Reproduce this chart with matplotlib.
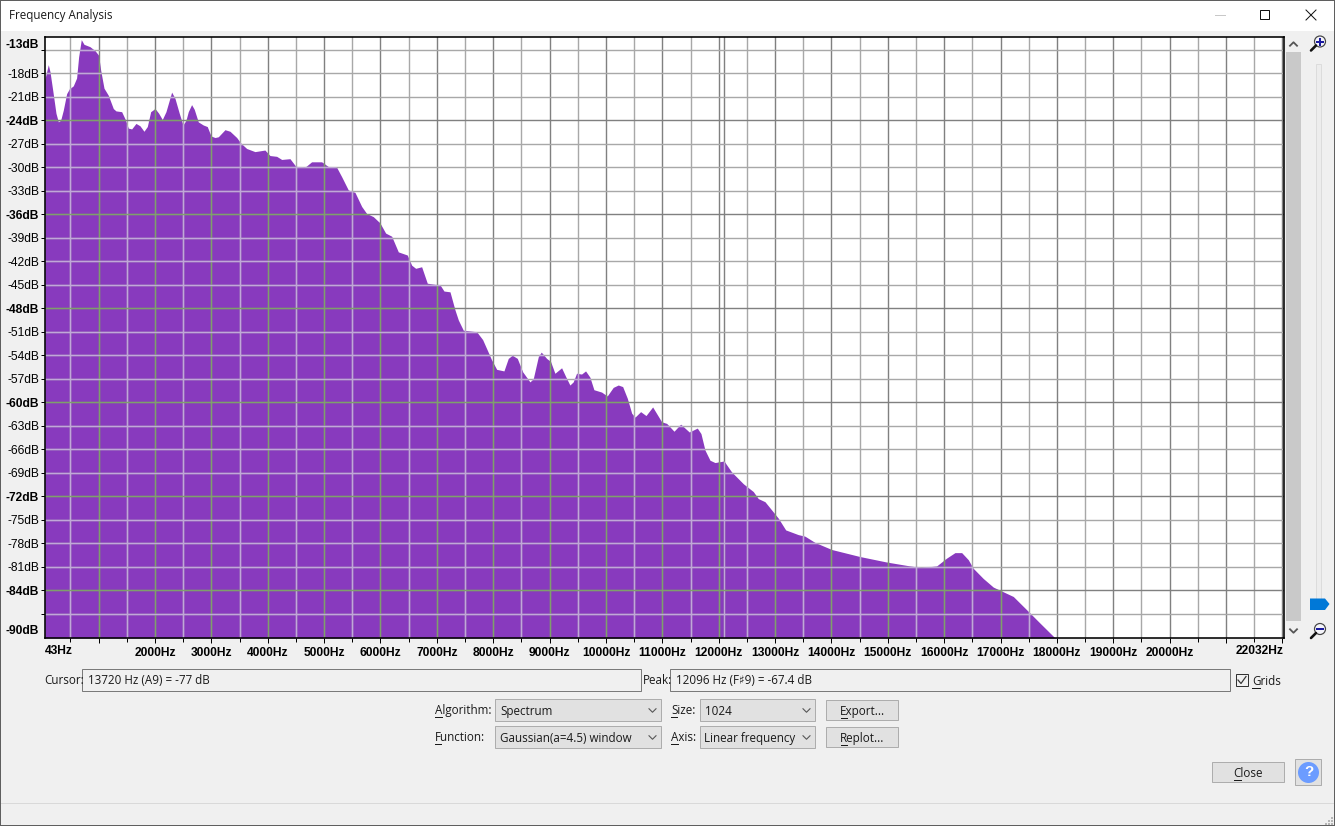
import numpy as np
import matplotlib
matplotlib.use('Agg')
import matplotlib.pyplot as plt
from matplotlib.patches import Rectangle, Polygon, Circle

# spectrum outline
freq_hz = [43, 107, 137, 184, 243, 285, 326, 373, 432, 479, 550, 609, 645, 692, 740, 846, 935, 1000,
           1036, 1095, 1171, 1260, 1307, 1408, 1473, 1526, 1586, 1662, 1733, 1804, 1863, 1923, 2000,
           2065, 2129, 2194, 2295, 2354, 2430, 2496, 2549, 2590, 2649, 2696, 2767, 2856, 2927, 2993,
           3064, 3123, 3241, 3330, 3449, 3520, 3626, 3773, 3950, 4039, 4158, 4247, 4394, 4500, 4660,
           4778, 4956, 5073, 5222, 5311, 5429, 5547, 5666, 5754, 5872, 5990, 6091, 6198, 6316, 6475,
           6553, 6624, 6730, 6830, 7014, 7055, 7126, 7233, 7321, 7381, 7469, 7706, 7812, 7972, 8061,
           8190, 8267, 8338, 8427, 8521, 8651, 8710, 8799, 8852, 8947, 9018, 9094, 9213, 9284, 9360,
           9419, 9478, 9567, 9638, 9715, 9786, 9922, 10022, 10129, 10218, 10296, 10379, 10456, 10515,
           10615, 10710, 10828, 10988, 11077, 11207, 11325, 11478, 11620, 11685, 11756, 11845, 11934,
           12094, 12229, 12436, 12613, 12702, 12821, 13057, 13188, 13411, 13530, 13708, 14004, 14506,
           14979, 15393, 15600, 15866, 16043, 16191, 16310, 16427, 16515, 16693, 16871, 17048, 17226,
           17492, 17700, 17953, 18000]
level_db = [-18.85, -16.9, -17.8, -20.1, -23.1, -24.2, -24.0, -22.7, -20.6, -20.0, -19.6, -18.6, -15.9,
            -13.7, -14.3, -14.6, -15.1, -15.7, -17.6, -19.9, -20.8, -22.5, -22.8, -22.9, -23.9, -25.0,
            -25.1, -24.4, -24.7, -25.4, -24.8, -22.9, -22.5, -23.1, -23.9, -22.9, -20.4, -21.2, -23.1,
            -24.6, -24.0, -22.9, -22.0, -22.6, -24.2, -24.6, -24.8, -26.0, -26.2, -26.1, -25.2, -25.4,
            -26.2, -26.9, -27.6, -28.0, -27.8, -28.5, -28.6, -29.0, -28.9, -29.9, -30.0, -29.3, -29.3,
            -29.9, -30.0, -31.2, -32.9, -33.2, -35.0, -35.9, -36.3, -37.1, -38.4, -38.8, -40.8, -41.2,
            -42.5, -42.9, -42.7, -44.8, -45.0, -45.0, -45.8, -45.9, -48.2, -49.5, -50.8, -51.0, -52.0,
            -54.6, -55.8, -56.0, -54.4, -54.0, -54.4, -56.1, -57.4, -57.0, -54.2, -53.6, -54.4, -54.8,
            -56.3, -55.6, -56.7, -57.8, -57.4, -56.3, -56.4, -56.0, -56.8, -58.4, -58.7, -59.2, -58.1,
            -57.8, -58.0, -59.5, -61.4, -61.9, -61.2, -61.7, -60.6, -62.5, -62.7, -63.7, -62.8, -63.8,
            -63.3, -64.0, -66.1, -67.4, -67.7, -67.5, -68.9, -70.4, -71.4, -72.3, -72.7, -74.8, -76.3,
            -76.9, -77.1, -77.9, -78.8, -79.7, -80.4, -80.9, -81.1, -80.9, -79.9, -79.2, -79.2, -80.1,
            -81.2, -82.5, -83.6, -84.2, -84.8, -86.7, -88.2, -90.0, -90.1]

peak_hz = 12096
x_range = [43, 22032]
y_range = [-90.1, -13.3]
x_labelled = [2000, 3000, 4000, 5000, 6000, 7000, 8000, 9000, 10000, 11000, 12000, 13000, 14000, 15000,
              16000, 17000, 18000, 19000, 20000]
db_ticks = [-15, -18, -21, -24, -27, -30, -33, -36, -39, -42, -45, -48, -51, -54, -57, -60, -63, -66,
            -69, -72, -75, -78, -81, -84, -87]
db_major = [-24, -36, -48, -60, -72, -84]
db_unlabelled = [-15, -87]

W, H = 1335, 826
PURPLE = '#883ABE'
BG = '#F0F0F0'
UI_FONT = ['Open Sans', 'DejaVu Sans']
AX_FONT = ['Liberation Sans', 'DejaVu Sans']
PX = 0.72  # points per pixel at dpi 100

fig = plt.figure(figsize=(W / 100, H / 100), dpi=100, facecolor=BG)

# window chrome is drawn on a full figure axes in pixel coordinates
ui = fig.add_axes([0, 0, 1, 1])
ui.set_xlim(0, W)
ui.set_ylim(H, 0)
ui.axis('off')


def box(x0, y0, x1, y1, face, edge, lw=1.0):
    # the small shift keeps the edge on the same pixel row as the screenshot
    ui.add_patch(Rectangle((x0 - 0.6, y0 - 0.6), x1 - x0, y1 - y0, facecolor=face, edgecolor=edge,
                           linewidth=lw * PX))


def label(x, y, text, ha='left', underline=None, **kw):
    t = ui.text(x, y + 1, text, ha=ha, va='center', fontsize=11.6 * PX, family=UI_FONT, color='#1a1a1a', **kw)
    if underline is not None:
        ui.plot(underline, [y + 7.5, y + 7.5], color='#1a1a1a', lw=1 * PX)
    return t


def chevron(x, y, color='#555555', size=3.5, up=False, lw=1.1):
    d = -3.5 if up else 3.5
    ui.plot([x - size, x, x + size], [y - d / 2, y + d / 2, y - d / 2], color=color, lw=lw * PX)


def combo(x0, y0, x1, y1, text):
    box(x0, y0, x1, y1, '#E1E1E1', '#ADADAD')
    label(x0 + 4, (y0 + y1) / 2, text)
    chevron(x1 - 9, (y0 + y1) / 2, color='#555555')


def button(x0, y0, x1, y1, text, underline):
    box(x0, y0, x1, y1, '#E1E1E1', '#ADADAD')
    label((x0 + x1) / 2, (y0 + y1) / 2, text, ha='center', underline=underline)


def magnifier(cx, cy, sign):
    ui.plot([cx - 9, cx - 4], [cy + 9, cy + 4], color='#111111', lw=2.6 * PX, solid_capstyle='round')
    ui.add_patch(Circle((cx, cy), 5.5, facecolor='#F4F4FA', edgecolor='#444444', linewidth=1.2 * PX))
    ui.plot([cx - 3, cx + 3], [cy, cy], color='#1A1AA0', lw=2 * PX)
    if sign == '+':
        ui.plot([cx, cx], [cy - 3, cy + 3], color='#1A1AA0', lw=2 * PX)


# title bar
ui.add_patch(Rectangle((0, 0), W, 31, facecolor='white', edgecolor='none'))
label(9, 15, 'Frequency Analysis')
ui.plot([1215, 1225], [15, 15], color='#C8C8C8', lw=1 * PX)
box(1260.5, 10.5, 1269.5, 19.5, 'none', '#111111')
ui.plot([1306, 1316], [10, 20], color='#111111', lw=1 * PX)
ui.plot([1306, 1316], [20, 10], color='#111111', lw=1 * PX)

# scrollbar and zoom slider on the right
ui.add_patch(Rectangle((1286, 52), 15, 569, facecolor='#C9C9C9', edgecolor='none'))
chevron(1293.5, 44, up=True, lw=1.8)
chevron(1293.5, 631, lw=1.8)
magnifier(1320, 41.5, '+')
magnifier(1320, 629, '-')
box(1317, 65, 1322, 600, '#EDEDED', '#DCDCDC')
ui.add_patch(Polygon([(1310, 598.5), (1325, 598.5), (1329.5, 604), (1325, 610), (1310, 610)],
                     facecolor='#0078D7', edgecolor='none'))

# readout row
label(44, 680, 'Cursor:')
box(82.5, 669.5, 641.5, 691.5, BG, '#7A7A7A')
label(88, 680, '13720 Hz (A9) = -77 dB')
label(642.5, 680, 'Peak:')
box(670.5, 669.5, 1230.5, 691.5, BG, '#7A7A7A')
label(676, 680, '12096 Hz (F♯9) = -67.4 dB')
box(1236.5, 674.5, 1248.5, 686.5, BG, '#333333')
ui.plot([1238, 1241, 1246], [680, 683.5, 676.5], color='#333333', lw=1.2 * PX)
label(1252, 680.5, 'Grids', underline=[1252, 1260])

# controls
label(435, 709.5, 'Algorithm:', underline=[435, 442])
combo(496, 699.5, 661.5, 721.5, 'Spectrum')
label(435, 736.5, 'Function:', underline=[435, 441])
combo(496, 726.5, 661.5, 748.5, 'Gaussian(a=4.5) window')
label(671, 709.5, 'Size:', underline=[671, 677])
combo(700.5, 699.5, 815.5, 721.5, '1024')
label(671, 736.5, 'Axis:', underline=[671, 678])
combo(700.5, 726.5, 815.5, 748.5, 'Linear frequency')
button(826.5, 700.5, 898.5, 720.5, 'Export...', [841, 847])
button(826.5, 727.5, 898.5, 747.5, 'Replot...', [841, 847])
button(1212.5, 762.5, 1284.5, 782.5, 'Close', [1234, 1241])

box(1295.5, 759.5, 1321.5, 785.5, '#E1E1E1', '#ADADAD')
ui.add_patch(Circle((1308.5, 772.5), 10.5, facecolor='#6C9CFF', edgecolor='none'))
ui.text(1308.5, 772.5, '?', ha='center', va='center', color='white', fontsize=15 * PX, fontweight='bold',
        family=AX_FONT)

# status bar and window border
ui.plot([1, W - 1], [802.5, 802.5], color='#D9D9D9', lw=1 * PX)
for gx, gy in [(1331, 817), (1328, 820), (1331, 820), (1325, 823), (1328, 823), (1331, 823)]:
    ui.add_patch(Rectangle((gx, gy), 2, 2, facecolor='#B5B5B5', edgecolor='none'))
for bx, by, bw, bh in [(0, 0, W, 1), (0, H - 1, W, 1), (0, 0, 1, H), (W - 1, 0, 1, H)]:
    ui.add_patch(Rectangle((bx, by), bw, bh, facecolor='#5F5F5F', edgecolor='none', zorder=6))

# plot area
left, right, top, bottom = 44.7, 1284.2, 36.5, 638
ax = fig.add_axes([left / W, 1 - bottom / H, (right - left) / W, (bottom - top) / H], facecolor='white')
ax.set_xlim(x_range)
ax.set_ylim(y_range)

spectrum = ax.fill_between(freq_hz, level_db, y_range[0], color=PURPLE, linewidth=0, zorder=1)
clip = spectrum.get_paths()[0]

# grid lines change colour where they cross the filled spectrum
x_minor = np.arange(500, 22001, 500)
x_major = x_minor[x_minor % 1000 == 0]


def grid_line(xs, ys, light, over):
    ax.plot(xs, ys, color=light, lw=1.4 * PX, zorder=2)
    line, = ax.plot(xs, ys, color=over, lw=1.4 * PX, zorder=3)
    line.set_clip_path(clip, ax.transData)


for f in x_minor:
    if f % 1000 == 0:
        grid_line([f, f], y_range, '#808080', '#7F9F6C')
    else:
        grid_line([f, f], y_range, '#A8A8A8', '#C0A8D8')
grid_line([peak_hz, peak_hz], y_range, '#808080', '#C0A8D8')
for d in db_ticks:
    if d in db_major:
        grid_line(x_range, [d, d], '#808080', '#7F9F6C')
    else:
        grid_line(x_range, [d, d], '#A8A8A8', '#C0A8D8')

for side in ax.spines.values():
    side.set_linewidth(1.6 * PX)
    side.set_color('black')
    side.set_zorder(5)

ax.set_xticks(x_major)
ax.set_xticklabels([f'{f}Hz' if f in x_labelled else '' for f in x_major], fontsize=12 * PX,
                   fontweight='bold', family=AX_FONT)
ax.set_xticks(x_minor[x_minor % 1000 != 0], minor=True)
ax.tick_params(axis='x', which='major', length=5 * PX, width=1 * PX, pad=4 * PX)
ax.tick_params(axis='x', which='minor', length=3.5 * PX, width=1 * PX)

ax.set_yticks(db_ticks)
ax.set_yticklabels(['' if d in db_unlabelled else f'{d}dB' for d in db_ticks], fontsize=12 * PX,
                   family=AX_FONT)
for tick_label, d in zip(ax.get_yticklabels(), db_ticks):
    if d in db_major:
        tick_label.set_fontweight('bold')
ax.tick_params(axis='y', length=4.5 * PX, width=1 * PX, pad=1 * PX)

# the range ends are labelled inside the axis, not on a tick
end_style = dict(fontsize=12 * PX, fontweight='bold', family=AX_FONT, va='center', annotation_clip=False)
ax.annotate('-13dB', xy=(0, 1), xycoords='axes fraction', xytext=(-5.7 * PX, -8 * PX),
            textcoords='offset points', ha='right', **end_style)
ax.annotate('-90dB', xy=(0, 0), xycoords='axes fraction', xytext=(-5.7 * PX, 6.5 * PX),
            textcoords='offset points', ha='right', **end_style)
ax.annotate('43Hz', xy=(0, 0), xycoords='axes fraction', xytext=(0, -13.5 * PX),
            textcoords='offset points', ha='left', **end_style)
ax.annotate('22032Hz', xy=(1, 0), xycoords='axes fraction', xytext=(-1 * PX, -13.5 * PX),
            textcoords='offset points', ha='right', **end_style)

fig.savefig('out.png', dpi=100, facecolor=BG)
